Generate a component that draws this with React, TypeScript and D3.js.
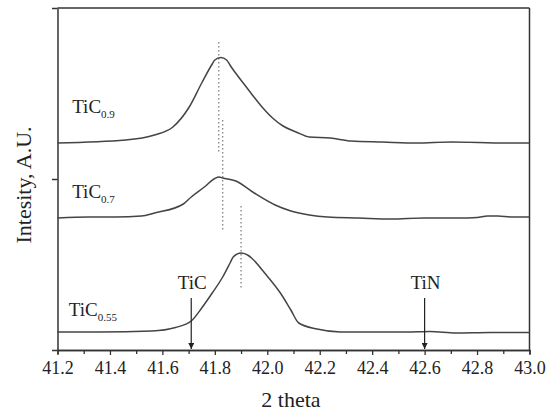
import React, { useEffect, useRef } from 'react';
import * as d3 from 'd3';

// XRD scans, 2 theta vs intensity (arbitrary units)
const theta09 = [41.2, 41.46, 41.57, 41.64, 41.7, 41.75, 41.79, 41.8, 41.823, 41.845, 41.86, 41.92, 41.98, 42.02, 42.06, 42.11, 42.16, 42.24, 42.32, 42.44, 42.57, 42.7, 42.91, 43.0];
const int09 = [207, 210, 215, 223, 242, 267, 286, 290, 292.5, 290, 284, 263, 243, 232, 224, 218, 213, 212, 209, 208, 207, 208, 207, 207];

const theta07 = [41.2, 41.32, 41.42, 41.52, 41.57, 41.68, 41.71, 41.76, 41.8, 41.816, 41.83, 41.88, 41.95, 42.03, 42.09, 42.16, 42.23, 42.35, 42.47, 42.6, 42.73, 42.8, 42.84, 42.88, 42.93, 43.0];
const int07 = [132, 133, 133, 134, 137, 146, 153, 163, 171.5, 173, 172, 169, 157, 145, 139, 135, 133, 132, 131, 132, 132, 132.5, 134, 134, 133, 133];

const theta055 = [41.2, 41.36, 41.56, 41.65, 41.71, 41.75, 41.79, 41.83, 41.86, 41.87, 41.9, 41.928, 41.94, 41.99, 42.05, 42.09, 42.12, 42.19, 42.28, 42.4, 42.53, 42.62, 42.72, 42.85, 43.0];
const int055 = [18, 18, 19, 22.5, 29, 42, 57, 73, 88, 93, 97, 94.5, 92, 77, 57, 40, 27, 21, 18, 18, 18, 18.5, 17, 17.5, 17.5];

const seriesNames = ['0.9', '0.7', '0.55'];

// peak position markers (dotted)
const peakTheta = [41.815, 41.83, 41.9];
const peakTop = [308, 230, 144];
const peakBottom = [198, 118, 62];

// reference positions
const refNames = ['TiC', 'TiN'];
const refTheta = [41.71, 42.6];

const xMajor = [41.2, 41.4, 41.6, 41.8, 42.0, 42.2, 42.4, 42.6, 42.8, 43.0];
const xMinor = [41.3, 41.5, 41.7, 41.9, 42.1, 42.3, 42.5, 42.7, 42.9];
const yTicks = [0, 171, 342];

const App = () => {
  const svgRef = useRef<SVGSVGElement>(null);

  useEffect(() => {
    const W = 547;
    const H = 414;
    const left = 57.5;
    const right = 529.5;
    const top = 8;
    const bottom = 350;
    const font = '"Liberation Serif", "Times New Roman", serif';
    const ink = '#333';

    const svg = d3.select(svgRef.current);
    svg.selectAll('*').remove();
    svg.attr('width', W).attr('height', H);

    svg.append('rect').attr('width', W).attr('height', H).attr('fill', '#fff');

    const x = d3.scaleLinear().domain([41.2, 43.0]).range([left, right]);
    const y = d3.scaleLinear().domain([0, 342]).range([bottom, top]);

    // bottom axis, major + minor ticks
    const gx = svg.append('g').attr('transform', `translate(0, ${bottom})`);
    gx.call(
      d3.axisBottom(x).tickValues(xMajor).tickSize(5).tickSizeOuter(0).tickPadding(6).tickFormat(d3.format('.1f') as any)
    );
    gx.append('g').call(d3.axisBottom(x).tickValues(xMinor).tickSize(4).tickFormat(() => ''));
    gx.attr('font-family', font).attr('font-size', 18);
    gx.selectAll('.domain').attr('stroke', ink).attr('stroke-width', 1.5);
    gx.selectAll('line').attr('stroke', ink).attr('stroke-width', 1.3);
    gx.selectAll('text')
      .attr('fill', '#222')
      .attr('font-family', font)
      .style('font-size', '18px');

    // left axis, no labels
    const gy = svg.append('g').attr('transform', `translate(${left}, 0)`);
    gy.call(d3.axisLeft(y).tickValues(yTicks).tickSize(5.5).tickSizeOuter(0).tickFormat(() => ''));
    gy.selectAll('.domain').attr('stroke', ink).attr('stroke-width', 1.5);
    gy.selectAll('line').attr('stroke', ink).attr('stroke-width', 1.5);

    // top and right frame
    svg.append('line').attr('x1', left).attr('x2', right).attr('y1', top).attr('y2', top)
      .attr('stroke', ink).attr('stroke-width', 1.5);
    svg.append('line').attr('x1', right).attr('x2', right).attr('y1', top).attr('y2', bottom)
      .attr('stroke', ink).attr('stroke-width', 1.5);

    // dotted peak lines
    peakTheta.forEach((t, i) => {
      svg.append('line')
        .attr('x1', x(t)).attr('x2', x(t))
        .attr('y1', y(peakTop[i])).attr('y2', y(peakBottom[i]))
        .attr('stroke', '#777')
        .attr('stroke-width', 1.2)
        .attr('stroke-dasharray', '1.5,2.5');
    });

    // scans
    const line = d3.line<[number, number]>()
      .x(d => x(d[0]))
      .y(d => y(d[1]))
      .curve(d3.curveMonotoneX);

    const scans: [number[], number[]][] = [[theta09, int09], [theta07, int07], [theta055, int055]];
    scans.forEach(([t, v]) => {
      svg.append('path')
        .datum(t.map((d, i) => [d, v[i]] as [number, number]))
        .attr('d', line)
        .attr('fill', 'none')
        .attr('stroke', '#444')
        .attr('stroke-width', 1.5);
    });

    // series labels TiC_x
    const labelPos = [[41.256, 237], [41.256, 152], [41.243, 34]];
    seriesNames.forEach((n, i) => {
      const t = svg.append('text')
        .attr('x', x(labelPos[i][0]))
        .attr('y', y(labelPos[i][1]))
        .attr('fill', '#222')
        .style('font-family', font)
        .style('font-size', '19px')
        .text('TiC');
      t.append('tspan')
        .attr('dy', 5)
        .style('font-size', '11px')
        .text(n);
    });

    // reference arrows
    svg.append('defs').append('marker')
      .attr('id', 'arrowhead')
      .attr('viewBox', '0 0 10 10')
      .attr('refX', 10).attr('refY', 5)
      .attr('markerWidth', 6).attr('markerHeight', 6)
      .attr('markerUnits', 'userSpaceOnUse')
      .attr('orient', 'auto')
      .append('path')
      .attr('d', 'M0,0 L10,5 L0,10 Z')
      .attr('fill', '#222');

    refTheta.forEach((t, i) => {
      svg.append('line')
        .attr('x1', x(t)).attr('x2', x(t))
        .attr('y1', y(52)).attr('y2', y(1))
        .attr('stroke', '#222')
        .attr('stroke-width', 1.2)
        .attr('marker-end', 'url(#arrowhead)');
      svg.append('text')
        .attr('x', x(t) + 1)
        .attr('y', y(61))
        .attr('text-anchor', 'middle')
        .attr('fill', '#222')
        .style('font-family', font)
        .style('font-size', '19px')
        .text(refNames[i]);
    });

    // axis titles
    svg.append('text')
      .attr('x', 291)
      .attr('y', 407)
      .attr('text-anchor', 'middle')
      .attr('fill', '#222')
      .style('font-family', font)
      .style('font-size', '22px')
      .text('2 theta');

    svg.append('text')
      .attr('transform', 'translate(31, 185) rotate(-90)')
      .attr('text-anchor', 'middle')
      .attr('fill', '#222')
      .style('font-family', font)
      .style('font-size', '22px')
      .text('Intesity, A.U.');
  }, []);

  return <svg ref={svgRef} style={{ position: 'absolute', left: 0, top: 0, display: 'block' }}></svg>;
};

export default App;
